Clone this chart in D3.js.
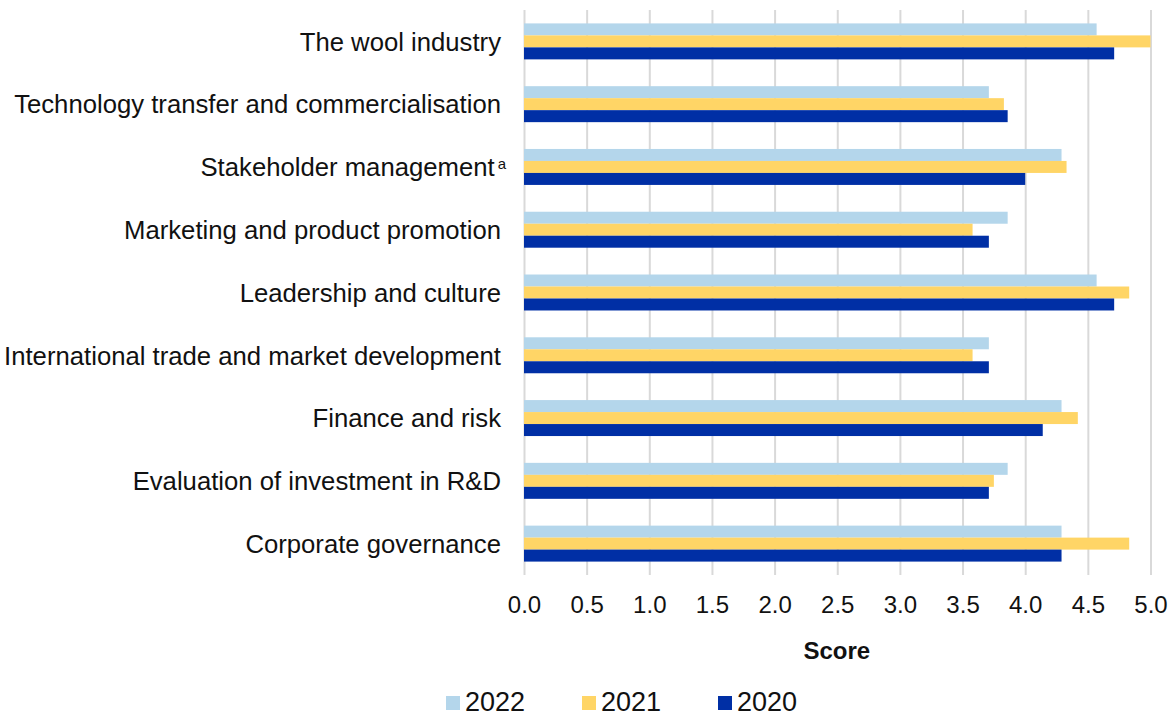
<!DOCTYPE html>
<html>
<head>
<meta charset="utf-8">
<script src="https://cdn.jsdelivr.net/npm/d3@7"></script>
<style>
  html, body { margin: 0; padding: 0; background: #fff; }
  svg { display: block; font-family: "Liberation Sans", Arial, sans-serif; }
</style>
</head>
<body>
<svg id="chart" width="1172" height="718"></svg>
<script>
// Categories, top to bottom
const categories = [
  "The wool industry",
  "Technology transfer and commercialisation",
  "Stakeholder management",
  "Marketing and product promotion",
  "Leadership and culture",
  "International trade and market development",
  "Finance and risk",
  "Evaluation of investment in R&D",
  "Corporate governance"
];
// Footnote markers shown as superscripts after a category name
const footnotes = { "Stakeholder management": "a" };

const seriesNames = ["2022", "2021", "2020"];
const values2022 = [4.57, 3.71, 4.29, 3.86, 4.57, 3.71, 4.29, 3.86, 4.29];
const values2021 = [5.00, 3.83, 4.33, 3.58, 4.83, 3.58, 4.42, 3.75, 4.83];
const values2020 = [4.71, 3.86, 4.00, 3.71, 4.71, 3.71, 4.14, 3.71, 4.29];
const seriesColors = ["#B4D6EB", "#FFD566", "#002FA5"];
const tickValues = [0, 0.5, 1, 1.5, 2, 2.5, 3, 3.5, 4, 4.5, 5];
const axisTitle = "Score";

const seriesValues = [values2022, values2021, values2020];
const rows = categories.map((c, i) => ({
  category: c,
  values: seriesNames.map((s, j) => ({ series: s, value: seriesValues[j][i], color: seriesColors[j] }))
}));

const svg = d3.select("#chart");
const plot = { left: 524, right: 1150.5, top: 10, bottom: 575 };

const x = d3.scaleLinear().domain([0, 5]).range([plot.left, plot.right]);
const y = d3.scaleBand().domain(categories).range([plot.top, plot.bottom])
  .paddingInner(0.427).paddingOuter(0.2135);
const ySub = d3.scaleBand().domain(seriesNames).range([0, y.bandwidth()]).padding(0);

// Vertical gridlines
const grid = svg.append("g")
  .attr("transform", `translate(0,${plot.bottom})`)
  .call(d3.axisBottom(x).tickValues(tickValues).tickSize(-(plot.bottom - plot.top)).tickFormat(""));
grid.select(".domain").remove();
grid.selectAll(".tick line").attr("stroke", "#d9d9d9").attr("stroke-width", 2);

// Bars
const groups = svg.append("g").selectAll("g")
  .data(rows).join("g")
  .attr("transform", d => `translate(0,${y(d.category)})`);
groups.selectAll("rect")
  .data(d => d.values).join("rect")
  .attr("x", x(0))
  .attr("y", d => ySub(d.series))
  .attr("width", d => x(d.value) - x(0))
  .attr("height", ySub.bandwidth())
  .attr("fill", d => d.color);

// X axis labels
const xAxis = svg.append("g")
  .attr("transform", `translate(0,${plot.bottom})`)
  .call(d3.axisBottom(x).tickValues(tickValues).tickSize(0).tickPadding(21).tickFormat(d3.format(".1f")));
xAxis.select(".domain").remove();
xAxis.selectAll("text").attr("font-size", 24).attr("fill", "#111").attr("font-family", null);

// Category labels
const yAxis = svg.append("g")
  .attr("transform", `translate(${plot.left},0)`)
  .call(d3.axisLeft(y).tickSize(0).tickPadding(23));
yAxis.select(".domain").remove();
yAxis.selectAll("text")
  .attr("font-size", 25.7).attr("fill", "#111").attr("font-family", null).attr("dy", "0.36em")
  .each(function (d) {
    const mark = footnotes[d];
    if (!mark) return;
    const t = d3.select(this);
    t.attr("x", -18);
    t.append("tspan").attr("dx", 3).attr("dy", -7).attr("font-size", 15).text(mark);
  });

// Axis title
svg.append("text")
  .attr("x", (plot.left + plot.right) / 2 - 0.5)
  .attr("y", 659)
  .attr("text-anchor", "middle")
  .attr("font-size", 24).attr("font-weight", "bold").attr("fill", "#111")
  .text(axisTitle);

// Legend
const legend = svg.append("g").attr("transform", "translate(446,696)");
const items = legend.selectAll("g").data(seriesNames).join("g")
  .attr("transform", (d, i) => `translate(${i * 136},0)`);
items.append("rect").attr("width", 14).attr("height", 14)
  .attr("fill", (d, i) => seriesColors[i]);
items.append("text").attr("x", 19).attr("y", 15)
  .attr("font-size", 27).attr("fill", "#111").text(d => d);
</script>
</body>
</html>
